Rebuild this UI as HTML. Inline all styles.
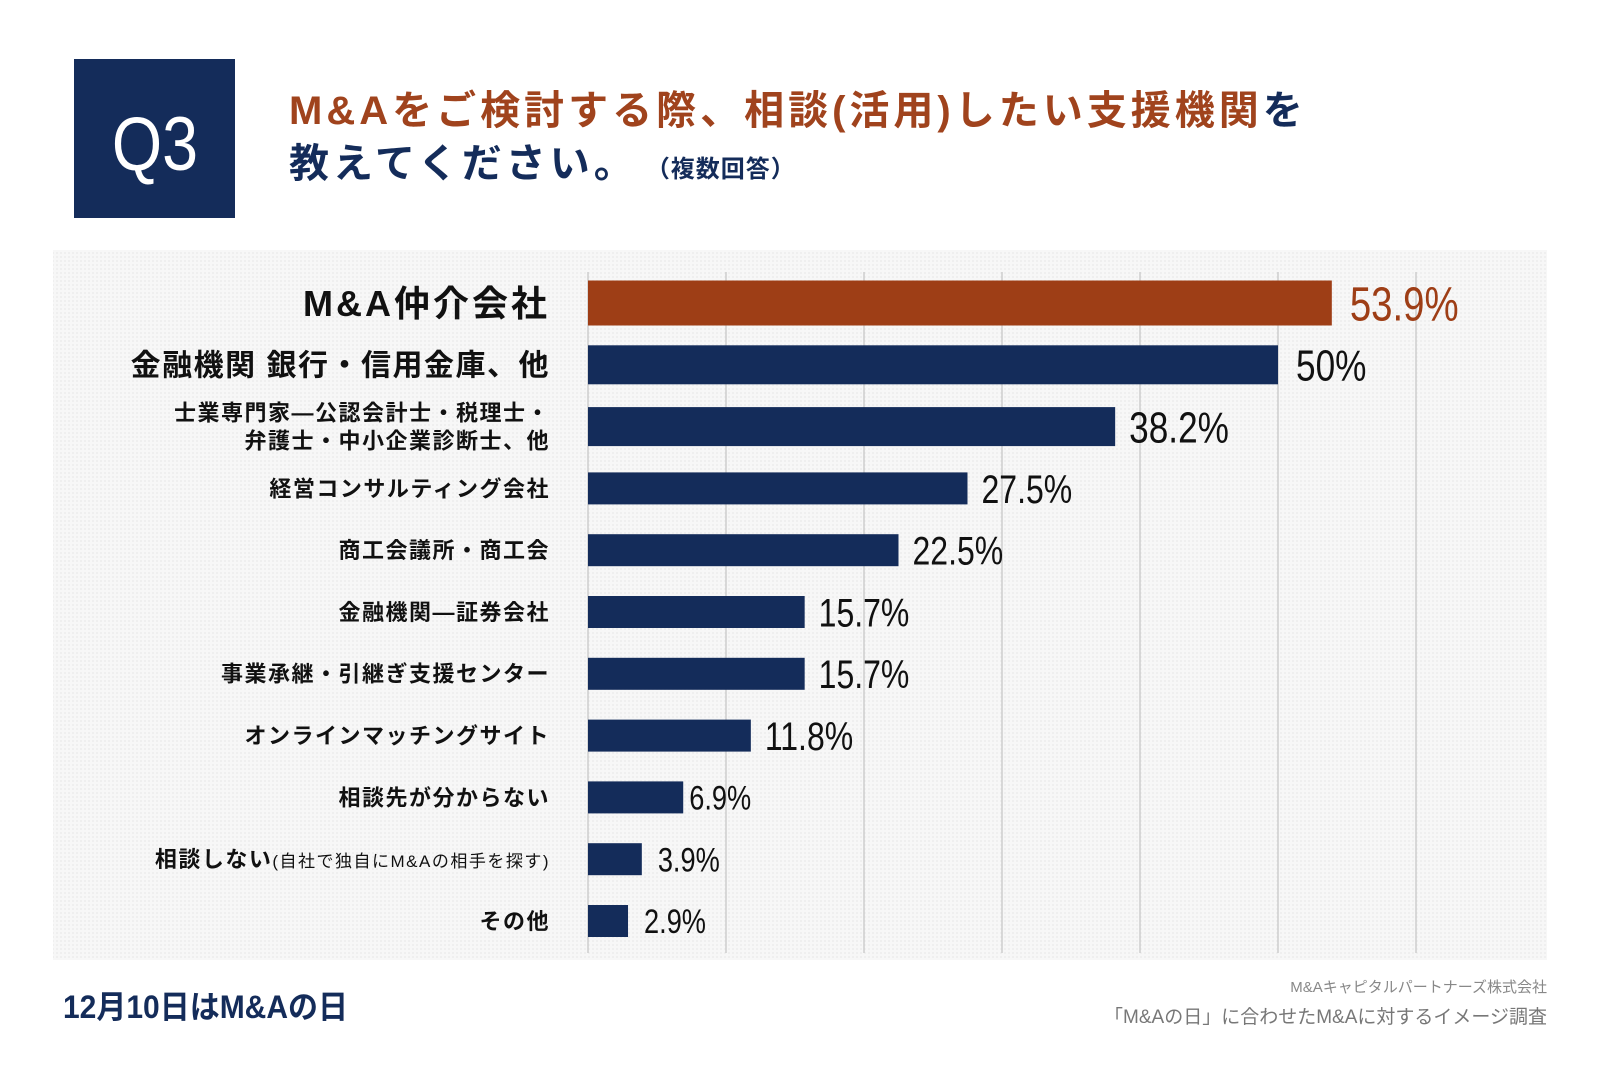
<!DOCTYPE html>
<html><head><meta charset="utf-8">
<style>
body{margin:0;width:1600px;height:1067px;background:#fff;overflow:hidden;font-family:"Liberation Sans","Noto Sans CJK JP",sans-serif;}
svg{display:block}
</style></head>
<body>
<svg width="1600" height="1067" viewBox="0 0 1600 1067">
<defs>
<pattern id="dots" width="4" height="4" patternUnits="userSpaceOnUse"><rect width="4" height="4" fill="#f7f7f7"/><rect width="2" height="2" fill="#efefef"/></pattern>
</defs>
<rect x="74" y="59" width="161" height="159" fill="#142c5a"/>
<text transform="translate(155,170) scale(0.85,1)" text-anchor="middle" font-size="76" fill="#fff" font-family="Liberation Sans, sans-serif">Q3</text>
<text x="289" y="124" font-size="40" font-weight="bold" fill="#a0431d" letter-spacing="4" font-family="Liberation Sans, Noto Sans CJK JP, sans-serif">M&amp;Aをご検討する際、相談(活用)したい支援機関<tspan fill="#142c5a">を</tspan></text>
<text x="289" y="177" font-size="40" font-weight="bold" fill="#142c5a" letter-spacing="4" font-family="Liberation Sans, Noto Sans CJK JP, sans-serif">教えてください。<tspan font-size="24" dx="20" letter-spacing="1">（複数回答）</tspan></text>
<rect x="53" y="250" width="1494" height="710" fill="url(#dots)"/>
<g id="grid"></g>
<g id="bars"></g>
<text x="63" y="1018" font-size="32" font-weight="bold" fill="#142c5a" textLength="285" lengthAdjust="spacingAndGlyphs" font-family="Liberation Sans, Noto Sans CJK JP, sans-serif">12月10日はM&amp;Aの日</text>
<text x="1547" y="992" text-anchor="end" font-size="15" fill="#888" font-family="Liberation Sans, Noto Sans CJK JP, sans-serif">M&amp;Aキャピタルパートナーズ株式会社</text>
<text x="1547" y="1023" text-anchor="end" font-size="19" fill="#777" font-family="Liberation Sans, Noto Sans CJK JP, sans-serif">「M&amp;Aの日」に合わせたM&amp;Aに対するイメージ調査</text>
</svg>
<script>
const categories=["M&A仲介会社","金融機関 銀行・信用金庫、他","士業専門家―公認会計士・税理士・|弁護士・中小企業診断士、他","経営コンサルティング会社","商工会議所・商工会","金融機関―証券会社","事業承継・引継ぎ支援センター","オンラインマッチングサイト","相談先が分からない","相談しない(自社で独自にM&Aの相手を探す)","その他"];
const values=[53.9,50,38.2,27.5,22.5,15.7,15.7,11.8,6.9,3.9,2.9];
const valueLabels=["53.9%","50%","38.2%","27.5%","22.5%","15.7%","15.7%","11.8%","6.9%","3.9%","2.9%"];
const gridTicks=[0,10,20,30,40,50,60];
const NS="http://www.w3.org/2000/svg";
const x0=588,pxPer=13.8,y0=303,pitch=61.8;
const xs=v=>x0+v*pxPer;
const ys=i=>y0+i*pitch;
function mk(t,a){const e=document.createElementNS(NS,t);for(const k in a)e.setAttribute(k,a[k]);return e;}
const grid=document.getElementById('grid'),bars=document.getElementById('bars');
gridTicks.forEach(t=>{
  const l=mk('line',{x1:xs(t),x2:xs(t),y1:272,y2:953,stroke:'#c4c4c4','stroke-width':1.2});
  
  
  grid.appendChild(l);
});
values.forEach((v,i)=>{
  const h=i==0?45:(i<3?39:32);
  const cy=ys(i);
  const r=mk('rect',{x:x0,y:cy-h/2,width:xs(v)-x0,height:h,fill:i==0?'#9e3e16':'#142c5a'});
  
  
  bars.appendChild(r);
  const fs=i==0?48:(i<3?44:(i<8?40:34));
  const tx=xs(v)+(i<2?18:(i<8?14:(i==8?6:16)));
  const t=mk('text',{x:0,y:0,'font-size':fs,fill:i==0?'#9e3e16':'#111',transform:`translate(${tx},${cy+fs*0.36}) scale(0.8,1)`});
  t.textContent=valueLabels[i];
  
  
  bars.appendChild(t);
  const lines=categories[i].split('|');
  const lfs=i==0?36:(i==1?30:22);
  lines.forEach((ln,j)=>{
    const ly=cy+lfs*0.36+(lines.length>1?(j-0.5)*28:0);
    const lt=mk('text',{x:550,y:ly,'text-anchor':'end','font-size':lfs,'font-weight':'bold',fill:'#111','letter-spacing':i==0?3:1.5});
    if(i==9){
      lt.innerHTML='相談しない<tspan font-size="17" font-weight="normal">(自社で独自にM&amp;Aの相手を探す)</tspan>';
    } else lt.textContent=ln;
    
    
    bars.appendChild(lt);
  });
});
</script>
</body></html>
